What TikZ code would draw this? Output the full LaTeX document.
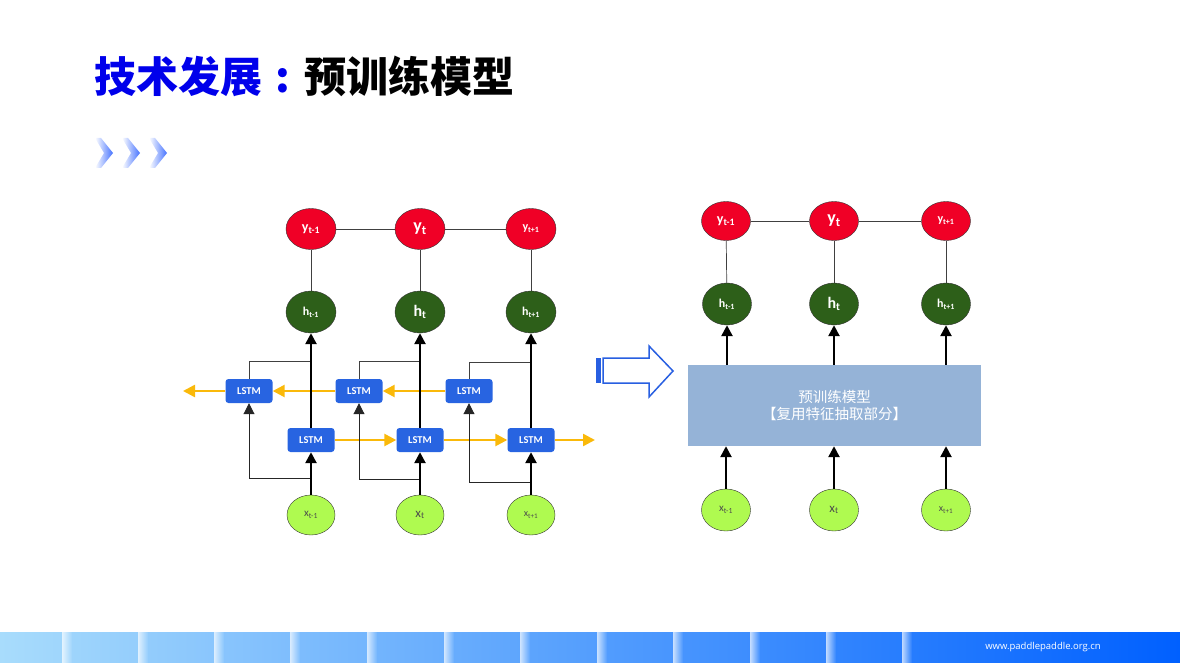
\documentclass[tikz,border=0pt]{standalone}
\usepackage{fontspec}
\setmainfont{Carlito}
\newfontfamily\cjk{Noto Sans CJK SC}
\newfontfamily\urlfont{Open Sans}
\usepackage{tikz}
\usetikzlibrary{arrows.meta, positioning, shapes.geometric, calc}
\usepackage{xcolor}
\definecolor{titleblue}{RGB}{0,0,235}
\definecolor{ynode}{RGB}{240,0,38}
\definecolor{hnode}{RGB}{45,95,25}
\definecolor{xnode}{RGB}{175,250,80}
\definecolor{lstmblue}{RGB}{40,100,225}
\definecolor{flow}{RGB}{250,185,10}
\definecolor{ptmfill}{RGB}{149,179,215}
\definecolor{hollowblue}{RGB}{40,95,225}
\definecolor{chevblue}{RGB}{70,115,255}
\definecolor{barL}{RGB}{168,220,252}
\definecolor{barR}{RGB}{0,96,255}

\begin{document}
\begin{tikzpicture}[
    x=1pt, y=-1pt,
    ynd/.style={ellipse, draw=black!80, fill=ynode, inner sep=0pt,
                minimum width=50pt, minimum height=41pt, text=white},
    hnd/.style={ellipse, draw=black!80, fill=hnode, inner sep=0pt,
                minimum width=50pt, minimum height=42pt, text=white},
    xnd/.style={ellipse, draw=black!80, fill=xnode, inner sep=0pt,
                minimum width=48pt, minimum height=40pt, text=black!70,
                font=\fontsize{11}{11}\selectfont},
    lstm/.style={rectangle, rounded corners=3pt, fill=lstmblue, text=white,
                 minimum width=47pt, minimum height=24pt, inner sep=0pt,
                 font=\fontsize{10.5}{10.5}\selectfont\bfseries},
    ptm/.style={rectangle, fill=ptmfill, text=white, align=center,
                minimum width=293pt, minimum height=81pt,
                font=\cjk\fontsize{14.5}{17}\selectfont},
    thk/.style={-{Triangle[width=11pt,length=11pt]}, line width=2.5pt},
    thn/.style={-{Triangle[width=11pt,length=11pt]}, line width=0.9pt, black!85},
    flw/.style={-{Triangle[width=12pt,length=12pt]}, line width=2.5pt, flow},
    lnk/.style={line width=0.7pt, black!75},
]
    \useasboundingbox (0,0) rectangle (1180,663);

    % title
    \node[anchor=west, inner sep=0pt, font=\cjk\bfseries\fontsize{42}{42}\selectfont] (title) at (94,76)
        {\textcolor{titleblue}{技术发展\makebox[42pt][c]{:}}预训练模型};

    % chevrons
    \shade[left color=white, right color=chevblue] (95,138) -- (101,138) -- (113,153) -- (101,168) -- (95,168) -- (104,153) -- cycle;
    \shade[left color=white, right color=chevblue] (122,138) -- (128,138) -- (140,153) -- (128,168) -- (122,168) -- (131,153) -- cycle;
    \shade[left color=white, right color=chevblue] (149,138) -- (155,138) -- (167,153) -- (155,168) -- (149,168) -- (158,153) -- cycle;

    % left: bidirectional LSTM
    \node[ynd, font=\fontsize{14}{14}\selectfont\bfseries] (y1) at (311,229) {y\textsubscript{t-1}};
    \node[ynd, font=\fontsize{18}{18}\selectfont\bfseries] (y2) at (420,229) {y\textsubscript{t}};
    \node[ynd, font=\fontsize{12}{12}\selectfont\bfseries] (y3) at (531,229) {y\textsubscript{t+1}};

    \node[hnd, font=\fontsize{12}{12}\selectfont\bfseries] (h1) at (311,312) {h\textsubscript{t-1}};
    \node[hnd, font=\fontsize{16}{16}\selectfont\bfseries] (h2) at (420,312) {h\textsubscript{t}};
    \node[hnd, font=\fontsize{12}{12}\selectfont\bfseries] (h3) at (531,312) {h\textsubscript{t+1}};

    \node[lstm] (ua) at (249,391) {LSTM};
    \node[lstm] (ub) at (359,391) {LSTM};
    \node[lstm] (uc) at (469,391) {LSTM};

    \node[lstm] (la) at (311,440) {LSTM};
    \node[lstm] (lb) at (420,440) {LSTM};
    \node[lstm] (lc) at (531,440) {LSTM};

    \node[xnd] (x1) at (311,515) {x\textsubscript{t-1}};
    \node[xnd, font=\fontsize{13}{13}\selectfont] (x2) at (420,515) {x\textsubscript{t}};
    \node[xnd, font=\fontsize{10}{10}\selectfont] (x3) at (531,515) {x\textsubscript{t+1}};

    \coordinate (lend) at (183,391);
    \coordinate (rend) at (595,440);
    \coordinate (sa) at (311,478);
    \coordinate (sb) at (420,479);
    \coordinate (sc) at (531,482);
    \coordinate (ra) at (311,361);
    \coordinate (rb) at (420,361);
    \coordinate (rc) at (531,362);

    \draw[lnk] (y1) -- (y2);
    \draw[lnk] (y2) -- (y3);
    \draw[lnk] (y1) -- (h1);
    \draw[lnk] (y2) -- (h2);
    \draw[lnk] (y3) -- (h3);

    \draw[flw] (la) -- (lb);
    \draw[flw] (lb) -- (lc);
    \draw[flw] (lc) -- (rend);
    \draw[flw] (uc) -- (ub);
    \draw[flw] (ub) -- (ua);
    \draw[flw] (ua) -- (lend);

    \draw[thn] (sa) -| (ua);
    \draw[thn] (sb) -| (ub);
    \draw[thn] (sc) -| (uc);
    \draw[lnk] (ua) |- (ra);
    \draw[lnk] (ub) |- (rb);
    \draw[lnk] (uc) |- (rc);

    \draw[thk] (x1) -- (la);
    \draw[thk] (x2) -- (lb);
    \draw[thk] (x3) -- (lc);
    \draw[thk] (la) -- (h1);
    \draw[thk] (lb) -- (h2);
    \draw[thk] (lc) -- (h3);

    % hollow arrow
    \fill[hollowblue] (596,358) rectangle (601,383);
    \draw[hollowblue, line width=1.5pt, fill=white] (603,358) -- (649,358) -- (649,346) -- (673,371)
        -- (649,397) -- (649,383) -- (603,383) -- cycle;

    % right: pre-trained model
    \node[ynd, minimum width=49pt, minimum height=39pt, font=\fontsize{14}{14}\selectfont\bfseries] (ry1) at (726,221) {y\textsubscript{t-1}};
    \node[ynd, minimum width=49pt, minimum height=39pt, font=\fontsize{18}{18}\selectfont\bfseries] (ry2) at (834,221) {y\textsubscript{t}};
    \node[ynd, minimum width=49pt, minimum height=39pt, font=\fontsize{12}{12}\selectfont\bfseries] (ry3) at (946,221) {y\textsubscript{t+1}};

    \node[hnd, minimum width=49pt, font=\fontsize{12}{12}\selectfont\bfseries] (rh1) at (727,304) {h\textsubscript{t-1}};
    \node[hnd, minimum width=49pt, font=\fontsize{16}{16}\selectfont\bfseries] (rh2) at (834,304) {h\textsubscript{t}};
    \node[hnd, minimum width=49pt, font=\fontsize{12}{12}\selectfont\bfseries] (rh3) at (946,304) {h\textsubscript{t+1}};

    \node[ptm] (model) at (834.5,405.5) {预训练模型\\【复用特征抽取部分】};

    \node[xnd, minimum width=49pt, minimum height=42pt] (rx1) at (726,510) {x\textsubscript{t-1}};
    \node[xnd, minimum width=49pt, minimum height=42pt, font=\fontsize{13}{13}\selectfont] (rx2) at (834,510) {x\textsubscript{t}};
    \node[xnd, minimum width=49pt, minimum height=42pt, font=\fontsize{10}{10}\selectfont] (rx3) at (946,510) {x\textsubscript{t+1}};

    \draw[lnk] (ry1) -- (ry2);
    \draw[lnk] (ry2) -- (ry3);
    \draw[lnk] (ry1) -- (rh1);
    \draw[lnk] (ry2) -- (rh2);
    \draw[lnk] (ry3) -- (rh3);

    \draw[thk] (rh1 |- model.north) -- (rh1);
    \draw[thk] (rh2 |- model.north) -- (rh2);
    \draw[thk] (rh3 |- model.north) -- (rh3);
    \draw[thk] (rx1) -- (rx1 |- model.south);
    \draw[thk] (rx2) -- (rx2 |- model.south);
    \draw[thk] (rx3) -- (rx3 |- model.south);

    % footer bar
    \shade[left color=barL, right color=barR] (0,632) rectangle (1180,663);
    \foreach \xa in {62,138,214,290,367,444,520,597,673,750,826,902} {
        \pgfmathsetmacro\pct{\xa/11.8}
        \colorlet{segc}{barR!\pct!barL}
        \shade[left color=white!70!segc, right color=segc] (\xa,632) rectangle (\xa+10,663);
    }
    \node[text=white, inner sep=0pt, font=\urlfont\fontsize{9.5}{9.5}\selectfont] (url) at (1043,647) {www.paddlepaddle.org.cn};
\end{tikzpicture}
\end{document}
